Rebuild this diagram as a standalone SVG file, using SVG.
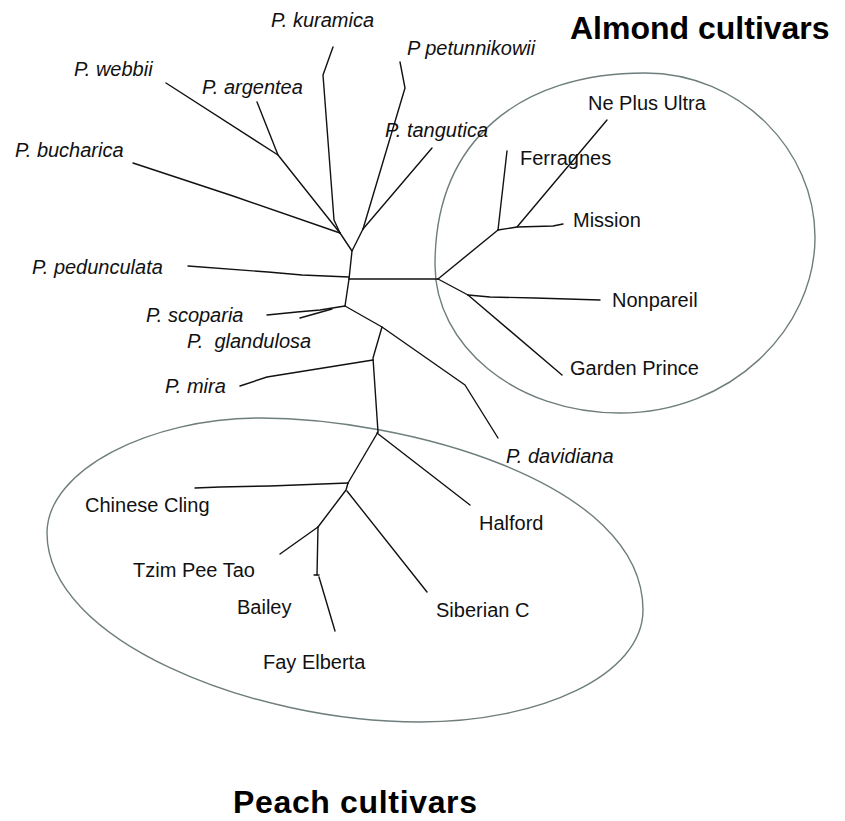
<svg xmlns="http://www.w3.org/2000/svg" width="845" height="821" viewBox="0 0 845 821">
<style>
.br{fill:none;stroke:#111;stroke-width:1.4;stroke-linejoin:round;stroke-linecap:round}
.grp{fill:none;stroke:#6f7d7d;stroke-width:1.4}
.lb{font-family:"Liberation Sans",Arial,sans-serif;font-size:20px;fill:#111}
.sp{font-family:"Liberation Sans",Arial,sans-serif;font-size:20px;font-style:italic;fill:#111}
.ttl{font-family:"Liberation Sans",Arial,sans-serif;font-size:32px;font-weight:bold;fill:#000}
</style>
<rect width="845" height="821" fill="#fff"/>
<g id="groups">
<path id="almond-group" class="grp" d="M435,265 C435,140 520,73 645,73 C740,73 815,150 815,237 C815,330 730,413 620,413 C515,413 435,345 435,265 Z"/>
<path id="peach-group" class="grp" d="M47,533 C47,470 150,418 260,418 C400,418 643,480 643,610 C643,675 540,722 420,722 C250,722 47,640 47,533 Z"/>
</g>
<g id="connectors">
<polyline class="br" points="166,83 278,155 340,233"/>
<polyline class="br" points="257,102 278,155"/>
<polyline class="br" points="133,163 233,196 340,233"/>
<polyline class="br" points="333,47 323,75 334,220 340,233"/>
<polyline class="br" points="400,62 405,88 363,229"/>
<polyline class="br" points="432,148 363,229"/>
<polyline class="br" points="340,233 352,251 363,229"/>
<polyline class="br" points="352,251 349,279"/>
<polyline class="br" points="188,266 268,272 302,275 349,277"/>
<polyline class="br" points="349,279 438,279"/>
<polyline class="br" points="349,279 345,306"/>
<polyline class="br" points="267,315 297,312 320,310 345,306"/>
<polyline class="br" points="300,318 332,309"/>
<polyline class="br" points="345,306 382,327 465,385 498,438"/>
<polyline class="br" points="382,327 373,358 378,432"/>
<polyline class="br" points="240,386 267,377 373,360"/>
<polyline class="br" points="438,279 498,230"/>
<polyline class="br" points="498,230 507,151"/>
<polyline class="br" points="498,230 517,227 553,226 563,224"/>
<polyline class="br" points="517,227 607,120"/>
<polyline class="br" points="438,279 468,295"/>
<polyline class="br" points="468,295 490,297 535,298 600,300"/>
<polyline class="br" points="468,295 562,375"/>
<polyline class="br" points="377,433 470,505"/>
<polyline class="br" points="378,432 348,483"/>
<polyline class="br" points="195,488 220,487 270,486 348,483"/>
<polyline class="br" points="348,483 346,490 318,527"/>
<polyline class="br" points="347,491 427,592"/>
<polyline class="br" points="318,527 280,554"/>
<polyline class="br" points="318,527 317,575"/>
<polyline class="br" points="314,575 319,575"/>
<polyline class="br" points="319,577 335,631"/>
</g>
<g id="titles">
<text id="almond-title" class="ttl" x="570" y="39">Almond cultivars</text>
<text id="peach-title" class="ttl" x="233" y="813" textLength="244" lengthAdjust="spacing">Peach cultivars</text>
</g>
<g id="species">
<g id="n-kuramica"><text class="sp" x="271" y="27">P. kuramica</text></g>
<g id="n-petunnikowii"><text class="sp" x="407" y="55">P petunnikowii</text></g>
<g id="n-webbii"><text class="sp" x="74" y="76">P. webbii</text></g>
<g id="n-argentea"><text class="sp" x="202" y="94">P. argentea</text></g>
<g id="n-tangutica"><text class="sp" x="385" y="137">P. tangutica</text></g>
<g id="n-bucharica"><text class="sp" x="15" y="157">P. bucharica</text></g>
<g id="n-pedunculata"><text class="sp" x="32" y="274">P. pedunculata</text></g>
<g id="n-scoparia"><text class="sp" x="146" y="322">P. scoparia</text></g>
<g id="n-glandulosa"><text class="sp" x="187" y="348" style="white-space:pre">P.  glandulosa</text></g>
<g id="n-mira"><text class="sp" x="165" y="393">P. mira</text></g>
<g id="n-davidiana"><text class="sp" x="506" y="463">P. davidiana</text></g>
</g>
<g id="almonds">
<g id="n-neplusultra"><text class="lb" x="588" y="110">Ne Plus Ultra</text></g>
<g id="n-ferragnes"><text class="lb" x="520" y="165">Ferragnes</text></g>
<g id="n-mission"><text class="lb" x="573" y="227">Mission</text></g>
<g id="n-nonpareil"><text class="lb" x="612" y="307">Nonpareil</text></g>
<g id="n-gardenprince"><text class="lb" x="570" y="375">Garden Prince</text></g>
</g>
<g id="peaches">
<g id="n-chinesecling"><text class="lb" x="85" y="512">Chinese Cling</text></g>
<g id="n-halford"><text class="lb" x="479" y="530">Halford</text></g>
<g id="n-tzimpeetao"><text class="lb" x="133" y="577">Tzim Pee Tao</text></g>
<g id="n-bailey"><text class="lb" x="237" y="614">Bailey</text></g>
<g id="n-siberianc"><text class="lb" x="436" y="617">Siberian C</text></g>
<g id="n-fayelberta"><text class="lb" x="263" y="669">Fay Elberta</text></g>
</g>
</svg>
